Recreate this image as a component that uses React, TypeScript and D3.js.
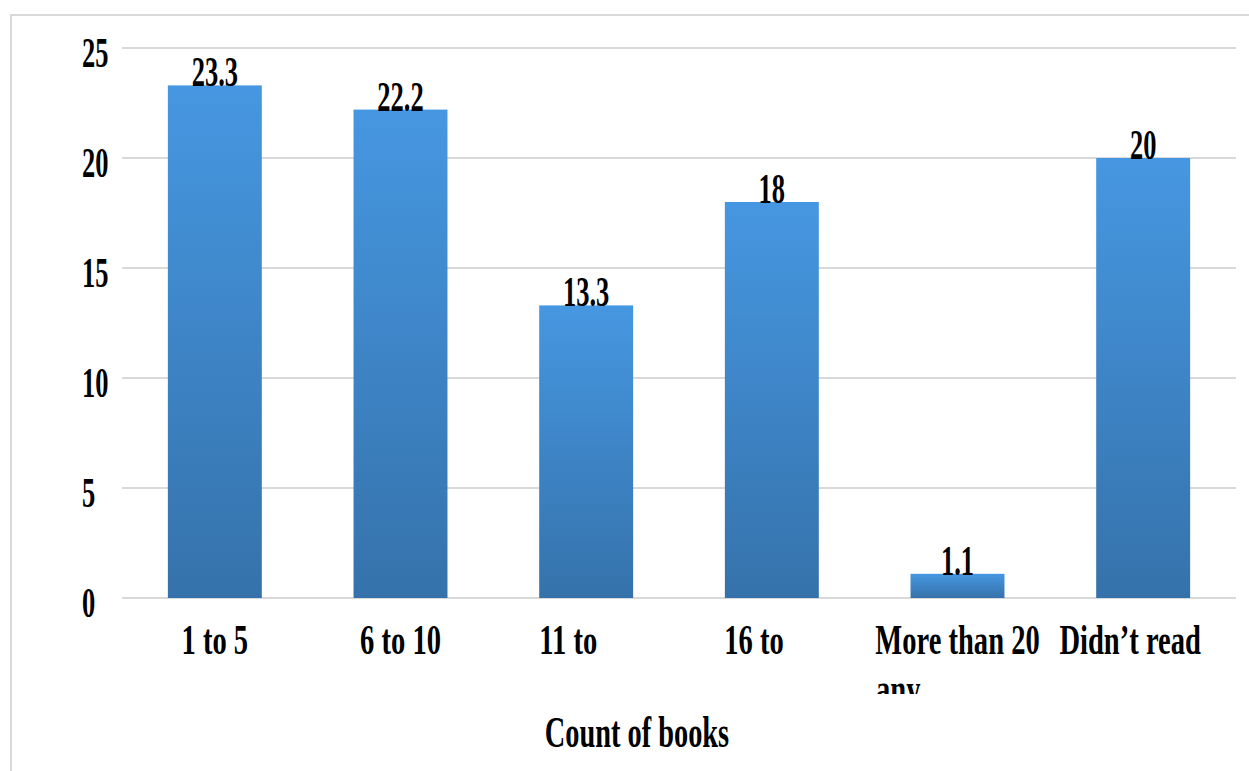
import React from 'react';
import * as d3 from 'd3';

const categories = ['1 to 5', '6 to 10', '11 to 15', '16 to 20', 'More than 20', "Didn\u2019t read"];
// visible part of each tick label (the rest is cut off in the original)
const tickShown = ['1 to 5', '6 to 10', '11 to', '16 to', 'More than 20', "Didn\u2019t read"];
const values = [23.3, 22.2, 13.3, 18, 1.1, 20];
const valueLabels = ['23.3', '22.2', '13.3', '18', '1.1', '20'];
const yTicks = [0, 5, 10, 15, 20, 25];

const W = 1249;
const H = 771;
const FONT = '"Liberation Serif", "Times New Roman", serif';

const App: React.FC = () => {
  const x = d3.scaleBand<string>()
    .domain(categories)
    .range([122, 1236])
    .paddingInner(0.494)
    .paddingOuter(0.247);
  const y = d3.scaleLinear().domain([0, 25]).range([598, 48]);

  const txt = (tx: number, ty: number, s: string, anchor = 'middle', size = 42, sx = 0.63, key?: any) => (
    <text
      key={key}
      transform={`translate(${tx},${ty}) scale(${sx},1)`}
      textAnchor={anchor}
      fontFamily={FONT}
      fontWeight="bold"
      fontSize={size}
      fill="#000"
    >
      {s}
    </text>
  );

  return (
    <div style={{ position: 'absolute', left: 0, top: 0 }}>
      <svg width={W} height={H} style={{ display: 'block', background: '#fff' }}>
        <defs>
          <linearGradient id="barGrad" x1="0" y1="0" x2="0" y2="1">
            <stop offset="0%" stopColor="#4697e1" />
            <stop offset="100%" stopColor="#3572ab" />
          </linearGradient>
          <clipPath id="clipAny">
            <rect x={0} y={0} width={W} height={694} />
          </clipPath>
          <clipPath id="clipTitle">
            <rect x={0} y={0} width={W} height={748} />
          </clipPath>
        </defs>

        {/* outer frame, runs off the right and bottom */}
        <rect x={11} y={15} width={W} height={H} fill="none" stroke="#d9d9d9" strokeWidth={2} />

        {/* gridlines */}
        {yTicks.map(t => (
          <line key={t} x1={122} x2={1236} y1={y(t)} y2={y(t)} stroke="#d9d9d9" strokeWidth={2} />
        ))}

        {/* y tick labels */}
        {yTicks.map(t => txt(82, y(t) + 19, String(t), 'start', 42, 0.63, 'yt' + t))}

        {/* bars */}
        {categories.map((c, i) => (
          <rect
            key={c}
            x={x(c)}
            y={y(values[i])}
            width={x.bandwidth()}
            height={y(0) - y(values[i])}
            fill="url(#barGrad)"
          />
        ))}

        {/* value labels */}
        {categories.map((c, i) =>
          txt((x(c) as number) + x.bandwidth() / 2, y(values[i]) + 1, valueLabels[i], 'middle', 42, 0.63, 'v' + i)
        )}

        {/* category labels */}
        {categories.map((c, i) => {
          const cx = (x(c) as number) + x.bandwidth() / 2;
          const shown = tickShown[i];
          const hidden = c.slice(shown.length);
          return (
            <text
              key={'c' + i}
              transform={`translate(${i === 5 ? cx - 13 : cx},654) scale(0.68,1)`}
              textAnchor="middle"
              fontFamily={FONT}
              fontWeight="bold"
              fontSize={42}
              fill="#000"
            >
              {shown}
              {hidden && <tspan fillOpacity={0}>{hidden}</tspan>}
            </text>
          );
        })}

        {/* wrapped second line, mostly cut off */}
        <g clipPath="url(#clipAny)">
          {txt(876, 703, 'any', 'start', 42, 0.68, 'any')}
        </g>

        {/* axis title */}
        <g clipPath="url(#clipTitle)">
          {txt(637, 747, 'Count of books', 'middle', 45, 0.63, 'title')}
        </g>
      </svg>
    </div>
  );
};

export default App;
